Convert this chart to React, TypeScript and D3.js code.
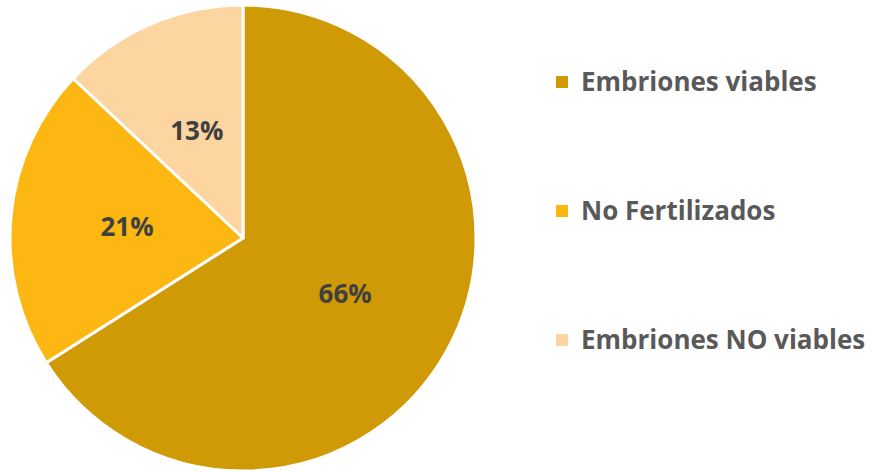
import React, { useEffect, useRef } from 'react';
import * as d3 from 'd3';

const categories = ['Embriones viables', 'No Fertilizados', 'Embriones NO viables'];
const values = [66, 21, 13];
const colors = ['#D09A07', '#FDB713', '#FDD5A1'];

const W = 874;
const H = 472;

const App: React.FC = () => {
	const ref = useRef<SVGSVGElement>(null);

	useEffect(() => {
		if (!ref.current) return;
		const svg = d3.select(ref.current);
		svg.selectAll('*').remove();

		const cx = 243;
		const cy = 238;
		const radius = 233;

		const pie = d3
			.pie<number>()
			.sort(null)
			.value((d) => d);
		const arcs = pie(values);

		const arc = d3
			.arc<d3.PieArcDatum<number>>()
			.innerRadius(0)
			.outerRadius(radius);
		const labelArc = d3
			.arc<d3.PieArcDatum<number>>()
			.innerRadius(radius * 0.5)
			.outerRadius(radius * 0.5);

		const g = svg.append('g').attr('transform', `translate(${cx},${cy})`);

		g.selectAll('path')
			.data(arcs)
			.enter()
			.append('path')
			.attr('d', arc)
			.attr('fill', (d, i) => colors[i])
			.attr('stroke', '#fff')
			.attr('stroke-width', 3)
			.attr('stroke-linejoin', 'round');

		// percentage labels
		g.selectAll('text.lbl')
			.data(arcs)
			.enter()
			.append('text')
			.attr('class', 'lbl')
			.attr('transform', (d) => `translate(${labelArc.centroid(d)})`)
			.attr('text-anchor', 'middle')
			.attr('dy', '0.36em')
			.attr('font-family', '"Open Sans", sans-serif')
			.attr('font-weight', 'bold')
			.attr('font-size', 26)
			.attr('fill', '#404040')
			.text((d) => `${d.data}%`);

		// legend
		const rowY = d3.scalePoint<string>().domain(categories).range([82, 340]);
		const legend = svg
			.append('g')
			.selectAll('g')
			.data(categories)
			.enter()
			.append('g')
			.attr('transform', (d) => `translate(556,${rowY(d)})`);

		legend
			.append('rect')
			.attr('x', 0)
			.attr('y', -6)
			.attr('width', 12)
			.attr('height', 12)
			.attr('fill', (d, i) => colors[i]);

		legend
			.append('text')
			.attr('x', 25)
			.attr('dy', '0.36em')
			.attr('font-family', '"Open Sans", sans-serif')
			.attr('font-weight', 'bold')
			.attr('font-size', 26)
			.attr('fill', '#595959')
			.text((d) => d);
	}, []);

	return (
		<svg
			ref={ref}
			width={W}
			height={H}
			style={{ position: 'absolute', left: 0, top: 0, background: '#fff' }}
		/>
	);
};

export default App;
